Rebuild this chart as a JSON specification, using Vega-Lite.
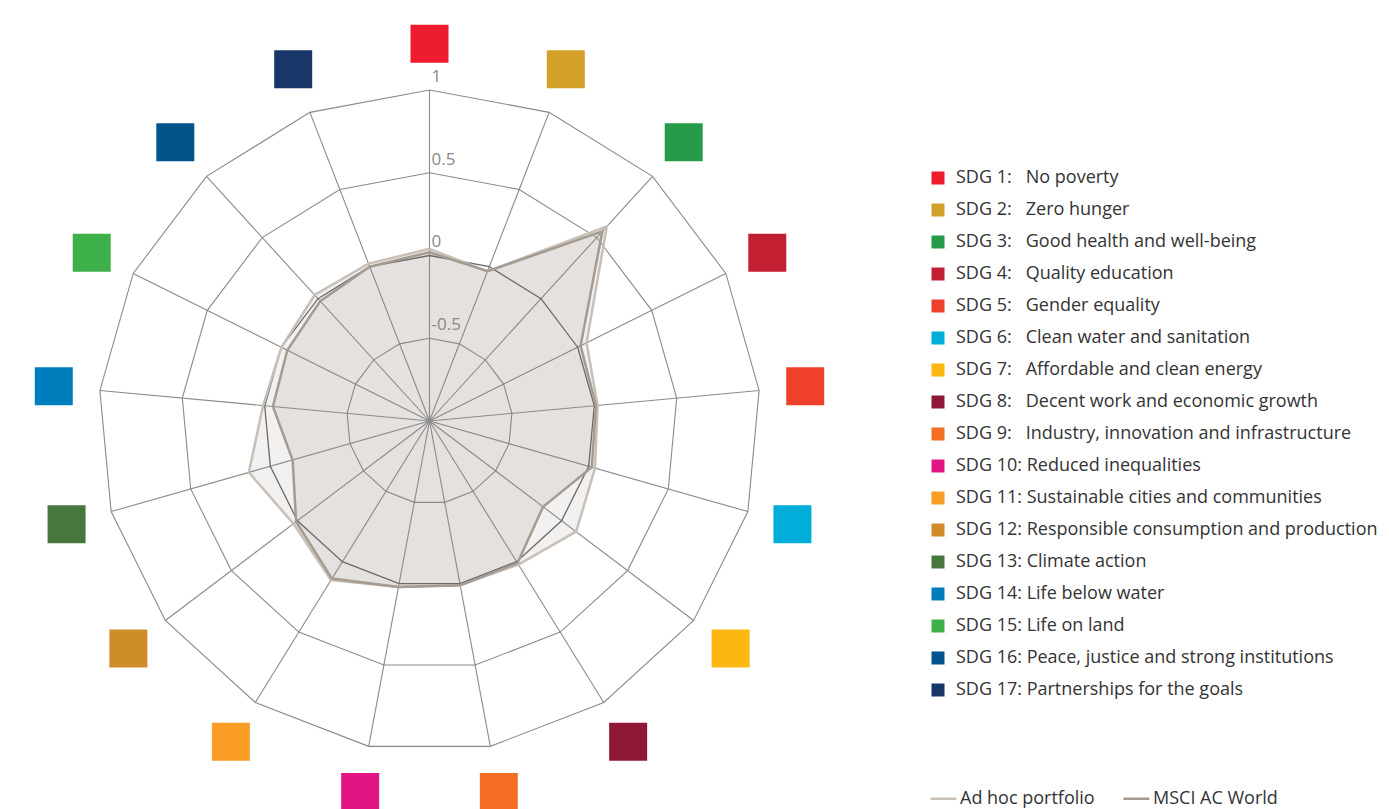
{
  "$schema": "https://vega.github.io/schema/vega-lite/v6.json",
  "width": 1389,
  "height": 809,
  "padding": 0,
  "autosize": {"type": "none"},
  "background": "white",
  "config": {"view": {"stroke": null}, "font": "Open Sans"},
  "datasets": {
    "axes": [
      {"k": 0, "sdg": "SDG 1:\u00a0\u00a0\u00a0No poverty", "levels": [-0.5, 0, 0.5, 1]},
      {"k": 1, "sdg": "SDG 2:\u00a0\u00a0\u00a0Zero hunger", "levels": [-0.5, 0, 0.5, 1]},
      {"k": 2, "sdg": "SDG 3:\u00a0\u00a0\u00a0Good health and well-being", "levels": [-0.5, 0, 0.5, 1]},
      {"k": 3, "sdg": "SDG 4:\u00a0\u00a0\u00a0Quality education", "levels": [-0.5, 0, 0.5, 1]},
      {"k": 4, "sdg": "SDG 5:\u00a0\u00a0\u00a0Gender equality", "levels": [-0.5, 0, 0.5, 1]},
      {"k": 5, "sdg": "SDG 6:\u00a0\u00a0\u00a0Clean water and sanitation", "levels": [-0.5, 0, 0.5, 1]},
      {"k": 6, "sdg": "SDG 7:\u00a0\u00a0\u00a0Affordable and clean energy", "levels": [-0.5, 0, 0.5, 1]},
      {"k": 7, "sdg": "SDG 8:\u00a0\u00a0\u00a0Decent work and economic growth", "levels": [-0.5, 0, 0.5, 1]},
      {"k": 8, "sdg": "SDG 9:\u00a0\u00a0\u00a0Industry, innovation and infrastructure", "levels": [-0.5, 0, 0.5, 1]},
      {"k": 9, "sdg": "SDG 10: Reduced inequalities", "levels": [-0.5, 0, 0.5, 1]},
      {"k": 10, "sdg": "SDG 11: Sustainable cities and communities", "levels": [-0.5, 0, 0.5, 1]},
      {"k": 11, "sdg": "SDG 12: Responsible consumption and production", "levels": [-0.5, 0, 0.5, 1]},
      {"k": 12, "sdg": "SDG 13: Climate action", "levels": [-0.5, 0, 0.5, 1]},
      {"k": 13, "sdg": "SDG 14: Life below water", "levels": [-0.5, 0, 0.5, 1]},
      {"k": 14, "sdg": "SDG 15: Life on land", "levels": [-0.5, 0, 0.5, 1]},
      {"k": 15, "sdg": "SDG 16: Peace, justice and strong institutions", "levels": [-0.5, 0, 0.5, 1]},
      {"k": 16, "sdg": "SDG 17: Partnerships for the goals", "levels": [-0.5, 0, 0.5, 1]}
    ],
    "scores": [
      {"k": 0, "series": "Ad hoc portfolio", "value": 0.04},
      {"k": 1, "series": "Ad hoc portfolio", "value": -0.03},
      {"k": 2, "series": "Ad hoc portfolio", "value": 0.59},
      {"k": 3, "series": "Ad hoc portfolio", "value": 0.06},
      {"k": 4, "series": "Ad hoc portfolio", "value": 0.02},
      {"k": 5, "series": "Ad hoc portfolio", "value": 0.04},
      {"k": 6, "series": "Ad hoc portfolio", "value": 0.11},
      {"k": 7, "series": "Ad hoc portfolio", "value": 0.02},
      {"k": 8, "series": "Ad hoc portfolio", "value": 0.01},
      {"k": 9, "series": "Ad hoc portfolio", "value": 0.02},
      {"k": 10, "series": "Ad hoc portfolio", "value": 0.13},
      {"k": 11, "series": "Ad hoc portfolio", "value": 0.03},
      {"k": 12, "series": "Ad hoc portfolio", "value": 0.135},
      {"k": 13, "series": "Ad hoc portfolio", "value": 0.01},
      {"k": 14, "series": "Ad hoc portfolio", "value": 0.0},
      {"k": 15, "series": "Ad hoc portfolio", "value": 0.03},
      {"k": 16, "series": "Ad hoc portfolio", "value": 0.02},
      {"k": 0, "series": "MSCI AC World", "value": 0.02},
      {"k": 1, "series": "MSCI AC World", "value": -0.03},
      {"k": 2, "series": "MSCI AC World", "value": 0.55},
      {"k": 3, "series": "MSCI AC World", "value": 0.02},
      {"k": 4, "series": "MSCI AC World", "value": 0.01},
      {"k": 5, "series": "MSCI AC World", "value": 0.02},
      {"k": 6, "series": "MSCI AC World", "value": -0.14},
      {"k": 7, "series": "MSCI AC World", "value": 0.01},
      {"k": 8, "series": "MSCI AC World", "value": 0.01},
      {"k": 9, "series": "MSCI AC World", "value": 0.02},
      {"k": 10, "series": "MSCI AC World", "value": 0.12},
      {"k": 11, "series": "MSCI AC World", "value": 0.01},
      {"k": 12, "series": "MSCI AC World", "value": -0.14},
      {"k": 13, "series": "MSCI AC World", "value": -0.05},
      {"k": 14, "series": "MSCI AC World", "value": -0.04},
      {"k": 15, "series": "MSCI AC World", "value": -0.02},
      {"k": 16, "series": "MSCI AC World", "value": 0.0}
    ],
    "levels": [
      {"level": -0.5, "label": "-0.5"},
      {"level": 0, "label": "0"},
      {"level": 0.5, "label": "0.5"},
      {"level": 1, "label": "1"}
    ]
  },
  "layer": [
    {
      "data": {"name": "scores"},
      "transform": [
        {"filter": "datum.series == 'Ad hoc portfolio'"},
        {"calculate": "datum.k * 2 * PI / 17", "as": "a"},
        {"calculate": "(datum.value + 1) / 2 * sin(datum.a)", "as": "px"},
        {"calculate": "(datum.value + 1) / 2 * cos(datum.a)", "as": "py"}
      ],
      "mark": {"type": "line", "interpolate": "linear-closed", "fill": "#c9c3bb", "fillOpacity": 0.24, "strokeOpacity": 0},
      "encoding": {
        "x": {"field": "px", "type": "quantitative", "scale": {"domain": [-1.2976, 2.8988], "nice": false, "zero": false}, "axis": null},
        "y": {"field": "py", "type": "quantitative", "scale": {"domain": [-1.1722, 1.2719], "nice": false, "zero": false}, "axis": null},
        "order": {"field": "k", "type": "quantitative"}
      }
    },
    {
      "data": {"name": "scores"},
      "transform": [
        {"filter": "datum.series == 'MSCI AC World'"},
        {"calculate": "datum.k * 2 * PI / 17", "as": "a"},
        {"calculate": "(datum.value + 1) / 2 * sin(datum.a)", "as": "px"},
        {"calculate": "(datum.value + 1) / 2 * cos(datum.a)", "as": "py"}
      ],
      "mark": {"type": "line", "interpolate": "linear-closed", "fill": "#c9c3bb", "fillOpacity": 0.33, "strokeOpacity": 0},
      "encoding": {
        "x": {"field": "px", "type": "quantitative", "scale": {"domain": [-1.2976, 2.8988], "nice": false, "zero": false}, "axis": null},
        "y": {"field": "py", "type": "quantitative", "scale": {"domain": [-1.1722, 1.2719], "nice": false, "zero": false}, "axis": null},
        "order": {"field": "k", "type": "quantitative"}
      }
    },
    {
      "data": {"name": "axes"},
      "transform": [
        {"calculate": "datum.k * 2 * PI / 17", "as": "a"},
        {"calculate": "sin(datum.a)", "as": "px"},
        {"calculate": "cos(datum.a)", "as": "py"}
      ],
      "mark": {"type": "rule", "stroke": "#8a8a8a", "strokeWidth": 1.1},
      "encoding": {
        "x": {"field": "px", "type": "quantitative", "scale": {"domain": [-1.2976, 2.8988], "nice": false, "zero": false}, "axis": null},
        "y": {"field": "py", "type": "quantitative", "scale": {"domain": [-1.1722, 1.2719], "nice": false, "zero": false}, "axis": null},
        "x2": {"datum": 0},
        "y2": {"datum": 0}
      }
    },
    {
      "data": {"name": "axes"},
      "transform": [
        {"flatten": ["levels"], "as": ["level"]},
        {"filter": "datum.level != 0"},
        {"calculate": "datum.k * 2 * PI / 17", "as": "a"},
        {"calculate": "(datum.level + 1) / 2 * sin(datum.a)", "as": "px"},
        {"calculate": "(datum.level + 1) / 2 * cos(datum.a)", "as": "py"}
      ],
      "mark": {"type": "line", "interpolate": "linear-closed", "stroke": "#8a8a8a", "strokeWidth": 1.1},
      "encoding": {
        "x": {"field": "px", "type": "quantitative", "scale": {"domain": [-1.2976, 2.8988], "nice": false, "zero": false}, "axis": null},
        "y": {"field": "py", "type": "quantitative", "scale": {"domain": [-1.1722, 1.2719], "nice": false, "zero": false}, "axis": null},
        "detail": {"field": "level", "type": "nominal"},
        "order": {"field": "k", "type": "quantitative"}
      }
    },
    {
      "data": {"name": "axes"},
      "transform": [
        {"flatten": ["levels"], "as": ["level"]},
        {"filter": "datum.level == 0"},
        {"calculate": "datum.k * 2 * PI / 17", "as": "a"},
        {"calculate": "(datum.level + 1) / 2 * sin(datum.a)", "as": "px"},
        {"calculate": "(datum.level + 1) / 2 * cos(datum.a)", "as": "py"}
      ],
      "mark": {"type": "line", "interpolate": "linear-closed", "stroke": "#6a6a6a", "strokeWidth": 1.3},
      "encoding": {
        "x": {"field": "px", "type": "quantitative", "scale": {"domain": [-1.2976, 2.8988], "nice": false, "zero": false}, "axis": null},
        "y": {"field": "py", "type": "quantitative", "scale": {"domain": [-1.1722, 1.2719], "nice": false, "zero": false}, "axis": null},
        "order": {"field": "k", "type": "quantitative"}
      }
    },
    {
      "data": {"name": "scores"},
      "transform": [
        {"calculate": "datum.k * 2 * PI / 17", "as": "a"},
        {"calculate": "(datum.value + 1) / 2 * sin(datum.a)", "as": "px"},
        {"calculate": "(datum.value + 1) / 2 * cos(datum.a)", "as": "py"}
      ],
      "mark": {"type": "line", "interpolate": "linear-closed", "strokeWidth": 2.5},
      "encoding": {
        "x": {"field": "px", "type": "quantitative", "scale": {"domain": [-1.2976, 2.8988], "nice": false, "zero": false}, "axis": null},
        "y": {"field": "py", "type": "quantitative", "scale": {"domain": [-1.1722, 1.2719], "nice": false, "zero": false}, "axis": null},
        "order": {"field": "k", "type": "quantitative"},
        "stroke": {
          "field": "series",
          "type": "nominal",
          "scale": {"domain": ["Ad hoc portfolio", "MSCI AC World"], "range": ["#c8c0b8", "#a59b91"]},
          "legend": {
            "orient": "none",
            "legendX": 929,
            "legendY": 784,
            "direction": "horizontal",
            "title": null,
            "padding": 0,
            "symbolType": "stroke",
            "symbolSize": 676,
            "symbolStrokeWidth": 2.5,
            "labelFont": "Open Sans",
            "labelFontSize": 18,
            "labelColor": "#333333",
            "labelOffset": 2,
            "columnPadding": 23,
            "labelLimit": 0
          }
        }
      }
    },
    {
      "data": {"name": "axes"},
      "transform": [
        {"calculate": "datum.k * 2 * PI / 17", "as": "a"},
        {"calculate": "1.14 * sin(datum.a)", "as": "px"},
        {"calculate": "1.14 * cos(datum.a)", "as": "py"}
      ],
      "mark": {"type": "point", "shape": "square", "filled": true, "size": 1444, "opacity": 1, "strokeWidth": 0},
      "encoding": {
        "x": {"field": "px", "type": "quantitative", "scale": {"domain": [-1.2976, 2.8988], "nice": false, "zero": false}, "axis": null},
        "y": {"field": "py", "type": "quantitative", "scale": {"domain": [-1.1722, 1.2719], "nice": false, "zero": false}, "axis": null},
        "color": {
          "field": "sdg",
          "type": "nominal",
          "scale": {
            "domain": [
              "SDG 1:\u00a0\u00a0\u00a0No poverty",
              "SDG 2:\u00a0\u00a0\u00a0Zero hunger",
              "SDG 3:\u00a0\u00a0\u00a0Good health and well-being",
              "SDG 4:\u00a0\u00a0\u00a0Quality education",
              "SDG 5:\u00a0\u00a0\u00a0Gender equality",
              "SDG 6:\u00a0\u00a0\u00a0Clean water and sanitation",
              "SDG 7:\u00a0\u00a0\u00a0Affordable and clean energy",
              "SDG 8:\u00a0\u00a0\u00a0Decent work and economic growth",
              "SDG 9:\u00a0\u00a0\u00a0Industry, innovation and infrastructure",
              "SDG 10: Reduced inequalities",
              "SDG 11: Sustainable cities and communities",
              "SDG 12: Responsible consumption and production",
              "SDG 13: Climate action",
              "SDG 14: Life below water",
              "SDG 15: Life on land",
              "SDG 16: Peace, justice and strong institutions",
              "SDG 17: Partnerships for the goals"
            ],
            "range": ["#ed1c2e", "#d3a029", "#279b48", "#c31f33", "#ef402b", "#00aed9", "#fdb713", "#8f1838", "#f36d25", "#e11484", "#f99d26", "#cf8d2a", "#48773e", "#007dbc", "#3eb049", "#02558b", "#183668"]
          },
          "legend": {
            "orient": "none",
            "legendX": 929,
            "legendY": 169,
            "title": null,
            "padding": 0,
            "symbolType": "square",
            "symbolSize": 169,
            "symbolStrokeWidth": 0,
            "symbolOpacity": 1,
            "labelFont": "Open Sans",
            "labelFontSize": 18,
            "labelColor": "#333333",
            "labelOffset": 9,
            "rowPadding": 14,
            "labelLimit": 0
          }
        }
      }
    },
    {
      "data": {"name": "levels"},
      "transform": [
        {"calculate": "0", "as": "px"},
        {"calculate": "(datum.level + 1) / 2", "as": "py"}
      ],
      "mark": {"type": "text", "align": "left", "baseline": "alphabetic", "dx": 2, "dy": -8, "fontSize": 17, "font": "Open Sans", "color": "#8a8a8a"},
      "encoding": {
        "x": {"field": "px", "type": "quantitative", "scale": {"domain": [-1.2976, 2.8988], "nice": false, "zero": false}, "axis": null},
        "y": {"field": "py", "type": "quantitative", "scale": {"domain": [-1.1722, 1.2719], "nice": false, "zero": false}, "axis": null},
        "text": {"field": "label", "type": "nominal"}
      }
    }
  ]
}
